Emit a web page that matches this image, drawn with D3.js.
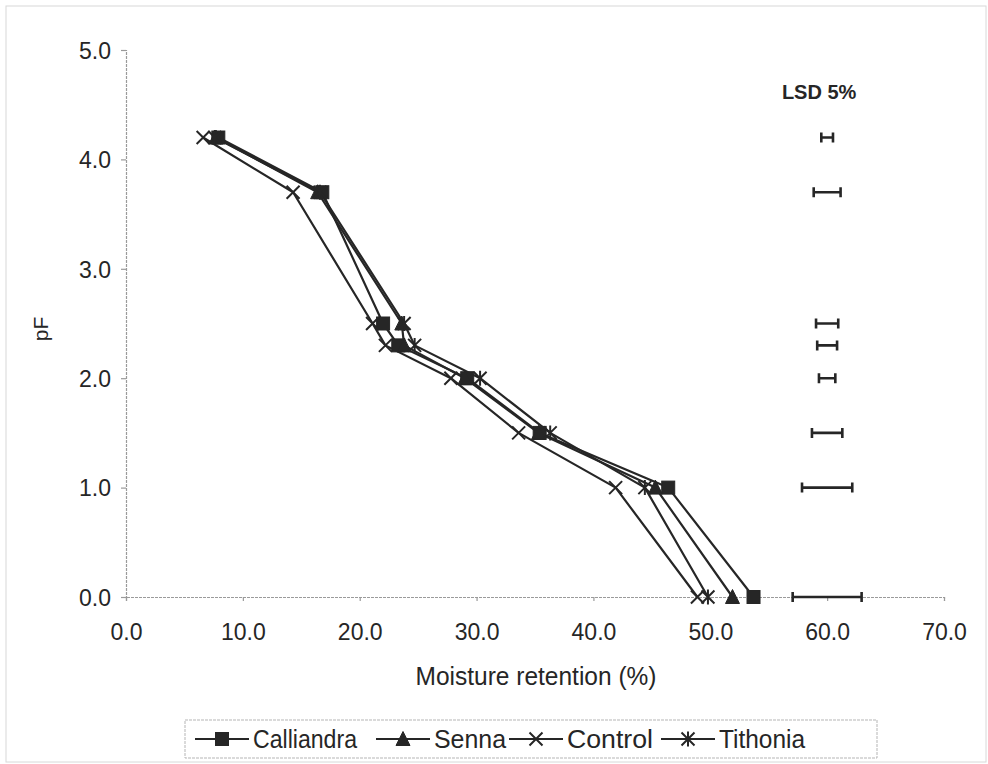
<!DOCTYPE html>
<html>
<head>
<meta charset="utf-8">
<script src="https://cdn.jsdelivr.net/npm/d3@7"></script>
<style>
  html, body { margin: 0; padding: 0; background: #fff; }
  svg { display: block; }
</style>
</head>
<body>
<script>
// Soil water retention: pF against moisture retention (%) for four mulch treatments
const pfLevels = [4.2, 3.7, 2.5, 2.3, 2.0, 1.5, 1.0, 0.0];

const seriesNames = ["Calliandra", "Senna", "Control", "Tithonia"];
const calliandra = [7.9, 16.8, 22.0, 23.3, 29.2, 35.4, 46.4, 53.7];
const senna      = [7.7, 16.4, 23.6, 23.8, 29.0, 35.3, 45.3, 51.9];
const control    = [6.6, 14.3, 21.1, 22.2, 27.8, 33.6, 41.9, 48.9];
const tithonia   = [7.6, 16.6, 23.8, 24.7, 30.3, 36.3, 44.4, 49.8];
const seriesMarkers = ["square", "triangle", "cross", "asterisk"];

// LSD (5%) at each pF level, drawn as a bar centred on 60 %
const lsdCentre = 60.0;
const lsdValues = [1.0, 2.3, 1.9, 1.7, 1.4, 2.6, 4.3, 5.9];

const xTicks = [0, 10, 20, 30, 40, 50, 60, 70];
const yTicks = [0, 1, 2, 3, 4, 5];

const W = 988, H = 764;
const ink = "#262626";

const svg = d3.select("body").append("svg")
  .attr("width", W).attr("height", H)
  .style("font-family", "'Liberation Sans', Arial, sans-serif");

// faint frame around the figure
svg.append("rect").attr("x", 6).attr("y", 6).attr("width", W - 8).attr("height", H - 8)
  .attr("fill", "none").attr("stroke", "#d8d8d8").attr("stroke-width", 1);

const x = d3.scaleLinear().domain([0, 70]).range([126, 944]);
const y = d3.scaleLinear().domain([0, 5]).range([597, 50]);

// axes
const axisColor = "#9a9a9a";
const yAxis = svg.append("g").attr("transform", `translate(${x(0)},0)`)
  .call(d3.axisLeft(y).tickValues(yTicks).tickFormat(d3.format(".1f")).tickSize(5).tickPadding(10));
const xAxis = svg.append("g").attr("transform", `translate(0,${y(0)})`)
  .call(d3.axisBottom(x).tickValues(xTicks).tickFormat(d3.format(".1f")).tickSize(4).tickPadding(23));
[yAxis, xAxis].forEach(g => {
  g.select(".domain").attr("stroke", axisColor).attr("stroke-width", 1.2).attr("stroke-dasharray", "3,1");
  g.selectAll(".tick line").attr("stroke", axisColor).attr("stroke-width", 1.2);
  g.selectAll(".tick text").attr("fill", ink).style("font-size", "23px")
    .style("font-family", "'Liberation Sans', Arial, sans-serif");
});
yAxis.selectAll(".tick text").attr("dy", "0.36em");

// axis titles
svg.append("text")
  .attr("x", 536).attr("y", 685)
  .attr("text-anchor", "middle")
  .attr("textLength", 241).attr("lengthAdjust", "spacingAndGlyphs")
  .style("font-family", "'Liberation Sans Narrow', 'Liberation Sans', Arial, sans-serif")
  .style("font-size", "25px").attr("fill", ink)
  .text("Moisture retention (%)");
svg.append("text")
  .attr("transform", `translate(48,${y(2.45)}) rotate(-90)`)
  .attr("text-anchor", "middle")
  .style("font-size", "21px").attr("fill", ink)
  .text("pF");

// marker drawing
function drawMarker(g, type, cx, cy) {
  const s = 6.5;
  if (type === "square") {
    g.append("rect").attr("x", cx - s).attr("y", cy - s).attr("width", 2 * s).attr("height", 2 * s)
      .attr("fill", ink).attr("stroke", ink).attr("stroke-width", 1);
  } else if (type === "triangle") {
    g.append("path").attr("d", `M${cx},${cy - s - 1}L${cx + s + 0.5},${cy + s}L${cx - s - 0.5},${cy + s}Z`)
      .attr("fill", ink).attr("stroke", ink).attr("stroke-width", 1);
  } else if (type === "cross") {
    g.append("path").attr("d", `M${cx - s},${cy - s}L${cx + s},${cy + s}M${cx + s},${cy - s}L${cx - s},${cy + s}`)
      .attr("stroke", ink).attr("stroke-width", 2).attr("fill", "none");
  } else if (type === "asterisk") {
    g.append("path").attr("d",
      `M${cx - s},${cy - s}L${cx + s},${cy + s}M${cx + s},${cy - s}L${cx - s},${cy + s}M${cx},${cy - s - 1}L${cx},${cy + s + 1}`)
      .attr("stroke", ink).attr("stroke-width", 2).attr("fill", "none");
  }
}

// series lines and markers
const seriesValues = [calliandra, senna, control, tithonia];
const line = d3.line().x(d => x(d[0])).y(d => y(d[1]));
const plot = svg.append("g");
seriesValues.forEach((vals, i) => {
  const pts = vals.map((v, j) => [v, pfLevels[j]]);
  plot.append("path").attr("d", line(pts))
    .attr("fill", "none").attr("stroke", ink).attr("stroke-width", 2.2)
    .attr("stroke-linejoin", "round");
});
seriesValues.forEach((vals, i) => {
  const g = plot.append("g");
  vals.forEach((v, j) => drawMarker(g, seriesMarkers[i], x(v), y(pfLevels[j])));
});

// LSD bars
const lsd = svg.append("g").attr("stroke", ink).attr("stroke-width", 2.6).attr("fill", "none");
lsdValues.forEach((w, j) => {
  const x0 = x(lsdCentre - w / 2), x1 = x(lsdCentre + w / 2), yy = y(pfLevels[j]);
  lsd.append("path").attr("d", `M${x0},${yy}L${x1},${yy}M${x0},${yy - 5}L${x0},${yy + 5}M${x1},${yy - 5}L${x1},${yy + 5}`);
});
svg.append("text")
  .attr("x", x(lsdCentre) - 8).attr("y", 99)
  .attr("text-anchor", "middle")
  .style("font-size", "20px").style("font-weight", "bold").attr("fill", ink)
  .text("LSD 5%");

// legend
const legend = svg.append("g");
legend.append("rect").attr("x", 185).attr("y", 720).attr("width", 692).attr("height", 38)
  .attr("fill", "none").attr("stroke", "#b5b5b5").attr("stroke-width", 1).attr("stroke-dasharray", "3,1");
const legendX = [195, 376, 509, 661];
const legendW = [104, 72, 86, 86];
seriesNames.forEach((name, i) => {
  const lx = legendX[i], ly = 739;
  legend.append("line").attr("x1", lx).attr("x2", lx + 54).attr("y1", ly).attr("y2", ly)
    .attr("stroke", ink).attr("stroke-width", 2.2);
  drawMarker(legend, seriesMarkers[i], lx + 27, ly);
  legend.append("text").attr("x", lx + 58).attr("y", ly + 8.5)
    .attr("textLength", legendW[i]).attr("lengthAdjust", "spacingAndGlyphs")
    .style("font-family", "'Liberation Sans Narrow', 'Liberation Sans', Arial, sans-serif")
    .style("font-size", "25px").attr("fill", ink)
    .text(name);
});
</script>
</body>
</html>
